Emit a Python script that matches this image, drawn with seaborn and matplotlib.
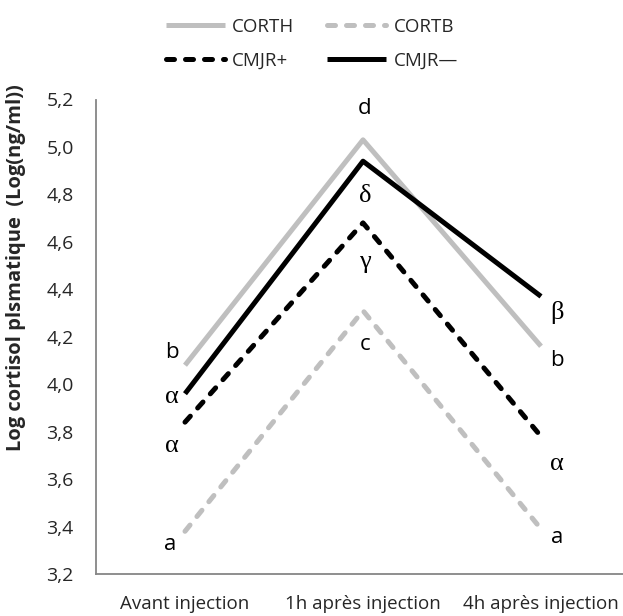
import matplotlib
matplotlib.use("Agg")
import matplotlib.pyplot as plt
import seaborn as sns
import pandas as pd

# ---- data ----
categories = ["Avant injection", "1h après injection", "4h après injection"]
series_names = ["CORTH", "CORTB", "CMJR+", "CMJR—"]
corth = [4.08, 5.03, 4.16]
cortb = [3.38, 4.31, 3.39]
cmjr_plus = [3.84, 4.68, 3.78]
cmjr_minus = [3.96, 4.94, 4.37]
letters_corth = ["b", "d", "b"]
letters_cortb = ["a", "c", "a"]
letters_cmjr_plus = ["α", "γ", "α"]
letters_cmjr_minus = ["α", "δ", "β"]
y_ticks = [3.2, 3.4, 3.6, 3.8, 4.0, 4.2, 4.4, 4.6, 4.8, 5.0, 5.2]

values = [corth, cortb, cmjr_plus, cmjr_minus]
letters = [letters_corth, letters_cortb, letters_cmjr_plus, letters_cmjr_minus]

sns.set_style("white")
FONT = ["Open Sans", "DejaVu Sans"]
plt.rcParams["font.family"] = FONT

W, H = 623, 616
fig = plt.figure(figsize=(W / 100, H / 100), dpi=100)
ax = fig.add_axes([96 / W, (H - 574) / H, 534 / W, 474.5 / H])

gray = "#BFBFBF"
styles = {
    "CORTH": dict(color=gray, dashes=None),
    "CORTB": dict(color=gray, dashes=(1.6, 2.2)),
    "CMJR+": dict(color="black", dashes=(1.6, 2.2)),
    "CMJR—": dict(color="black", dashes=None),
}
lw = 3.6
lines = {}
for name, vals in zip(series_names, values):
    df = pd.DataFrame({"cat": categories, "val": vals})
    st = styles[name]
    sns.lineplot(data=df, x="cat", y="val", ax=ax, color=st["color"], linewidth=lw,
                 sort=False, label=name, legend=False)
    ln = ax.get_lines()[-1]
    ln.set_solid_capstyle("butt")
    if st["dashes"] is not None:
        ln.set_dashes(st["dashes"])
        ln.set_dash_capstyle("round")
    lines[name] = ln

# letter annotations: offsets in pixels (dx, dy) relative to data points
px = 0.72
offsets = {
    "CORTH": [(-13, 13), (2, 31), (16, -14)],
    "CORTB": [(-15, -13), (2, -34), (16, -9)],
    "CMJR+": [(-13, -24), (2, -39), (16, -28)],
    "CMJR—": [(-13, -3), (2, -35), (16, -16)],
}
for name, vals, labs in zip(series_names, values, letters):
    for i, (v, t) in enumerate(zip(vals, labs)):
        dx, dy = offsets[name][i]
        greek = t in "αβγδ"
        ax.annotate(t, (i, v), xytext=(dx * px, dy * px), textcoords="offset points",
                    ha="center", va="center", fontsize=16 if not greek else 19,
                    family=["Liberation Serif"] if greek else FONT,
                    color="black")

ax.set_xlim(-0.5, 2.5)
ax.set_ylim(3.2, 5.2)
ax.set_yticks(y_ticks)
ax.set_yticklabels([f"{v:.1f}".replace(".", ",") for v in y_ticks], fontsize=14)
ax.set_xticks([-0.5, 0.5, 1.5, 2.5])
ax.set_xticklabels([])
ax.set_xticks([0, 1, 2], minor=True)
ax.set_xticklabels(categories, minor=True, fontsize=13.5)
ax.tick_params(axis="x", which="minor", length=0, pad=15)
ax.tick_params(axis="x", which="major", length=5, width=1.2, color="#868686", direction="out")
ax.tick_params(axis="y", length=6, width=1.2, color="#868686", direction="out", pad=10)
ax.set_xlabel("")
ax.set_ylabel("Log cortisol plsmatique  (Log(ng/ml))", fontsize=14.5, fontweight="bold")
ax.yaxis.set_label_coords(-70 / 534, (574 - 268) / 474.5)

for s in ["top", "right"]:
    ax.spines[s].set_visible(False)
for s in ["left", "bottom"]:
    ax.spines[s].set_color("#868686")
    ax.spines[s].set_linewidth(1.3)

order = ["CORTH", "CMJR+", "CORTB", "CMJR—"]
fig.legend([lines[n] for n in order], order, ncol=2, frameon=False,
           loc="center", bbox_to_anchor=(312 / W, 1 - 44 / H), fontsize=13.5,
           handlelength=3.15, columnspacing=1.75, labelspacing=0.85, handletextpad=0.4)

fig.savefig("out.png", dpi=100)
